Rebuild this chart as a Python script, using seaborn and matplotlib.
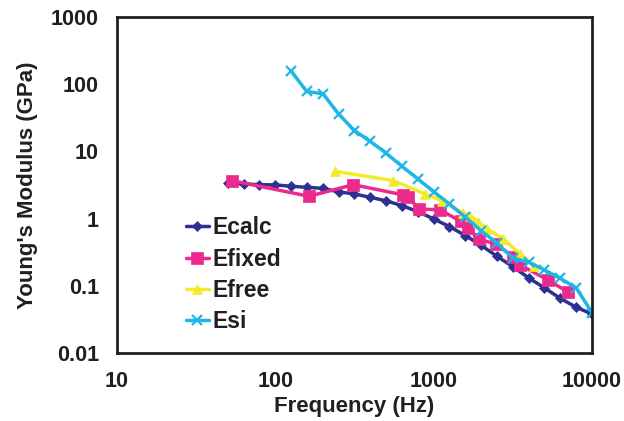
import numpy as np
import pandas as pd
import matplotlib
matplotlib.use("Agg")
import matplotlib.pyplot as plt
import seaborn as sns

# ---- data ----
ecalc_f = [50, 63, 79, 100, 126, 158, 200, 251, 316, 398, 501, 631, 794,
           1000, 1259, 1585, 1995, 2512, 3162, 3981, 5012, 6310, 7943, 10000]
ecalc_v = [3.35, 3.28, 3.2, 3.17, 3.03, 2.92, 2.82, 2.5, 2.33, 2.07, 1.84, 1.56, 1.27,
           0.99, 0.76, 0.56, 0.40, 0.275, 0.193, 0.131, 0.093, 0.065, 0.048, 0.038]

efixed_f = [53, 163, 311, 644, 692, 809, 1097, 1482, 1641, 1935, 2467, 3186, 3514, 5260, 7095]
efixed_v = [3.68, 2.15, 3.2, 2.25, 2.07, 1.39, 1.35, 0.91, 0.73, 0.49, 0.42, 0.27, 0.205, 0.122, 0.080]

efree_f = [238, 556, 883, 1125, 1541, 1700, 1900, 2185, 2754, 3514, 4306]
efree_v = [5.06, 3.68, 2.33, 1.85, 1.2, 1.11, 0.90, 0.70, 0.50, 0.30, 0.20]

esi_f = [126, 158, 200, 251, 316, 398, 501, 631, 794, 1000, 1259, 1585, 1995,
         2512, 3162, 3981, 5012, 6310, 7943, 10000]
esi_v = [156, 78, 72, 36, 20.4, 14.1, 9.4, 6.0, 3.9, 2.52, 1.65, 1.05, 0.66,
         0.43, 0.26, 0.224, 0.172, 0.129, 0.093, 0.040]

series_names = ["Ecalc", "Efixed", "Efree", "Esi"]
x_ticks = [10, 100, 1000, 10000]
x_tick_labels = ["10", "100", "1000", "10000"]
y_ticks = [0.01, 0.1, 1, 10, 100, 1000]
y_tick_labels = ["0.01", "0.1", "1", "10", "100", "1000"]

colors = {"Ecalc": "#2E3192", "Efixed": "#EC2A8E", "Efree": "#F4EA2C", "Esi": "#1DB6E6"}
markers = {"Ecalc": "D", "Efixed": "s", "Efree": "^", "Esi": "x"}
msizes = {"Ecalc": 5.5, "Efixed": 8, "Efree": 7.5, "Esi": 7}

frames = []
for name, f, v in zip(series_names, [ecalc_f, efixed_f, efree_f, esi_f],
                      [ecalc_v, efixed_v, efree_v, esi_v]):
    frames.append(pd.DataFrame({"Frequency": f, "Modulus": v, "Series": name}))
df = pd.concat(frames, ignore_index=True)

sns.set_theme(style="white")
plt.rcParams['font.family'] = ['Liberation Sans', 'DejaVu Sans']

fig = plt.figure(figsize=(6.24, 4.21), dpi=100)
ax = fig.add_axes([0.1875, 0.1615, 0.7612, 0.7981])

for name in series_names:
    sub = df[df["Series"] == name]
    sns.lineplot(data=sub, x="Frequency", y="Modulus", ax=ax, color=colors[name],
                 marker=markers[name], markersize=msizes[name], linewidth=2.5,
                 markeredgecolor=colors[name], markeredgewidth=1.6 if name == "Esi" else 0.5,
                 label=name, sort=False, estimator=None)

ax.set_xscale("log")
ax.set_yscale("log")
ax.set_xlim(10, 10000)
ax.set_ylim(0.01, 1000)
ax.set_xticks(x_ticks)
ax.set_xticklabels(x_tick_labels)
ax.set_yticks(y_ticks)
ax.set_yticklabels(y_tick_labels)
ax.minorticks_off()
ax.tick_params(axis="both", which="major", direction="in", length=5, width=1.5,
               colors="#231F20", labelsize=15.5)
ax.tick_params(axis="y", pad=13)
ax.tick_params(axis="x", pad=13)
for lab in ax.get_xticklabels() + ax.get_yticklabels():
    lab.set_fontweight("bold")
    lab.set_color("#231F20")

for sp in ax.spines.values():
    sp.set_color("#231F20")
    sp.set_linewidth(2)

ax.set_xlabel("Frequency (Hz)", fontsize=16, fontweight="bold", color="#231F20", labelpad=3)
ax.set_ylabel("Young's Modulus (GPa)", fontsize=16, fontweight="bold", color="#231F20", labelpad=9)
ax.grid(False)

leg = ax.legend(loc="upper left", bbox_to_anchor=(0.126, 0.434), frameon=False,
                prop={"weight": "bold", "size": 16.5}, handlelength=1.0,
                handletextpad=0.15, labelspacing=0.36, borderaxespad=0)
for t in leg.get_texts():
    t.set_color("#231F20")

fig.savefig("out.png", dpi=100)
